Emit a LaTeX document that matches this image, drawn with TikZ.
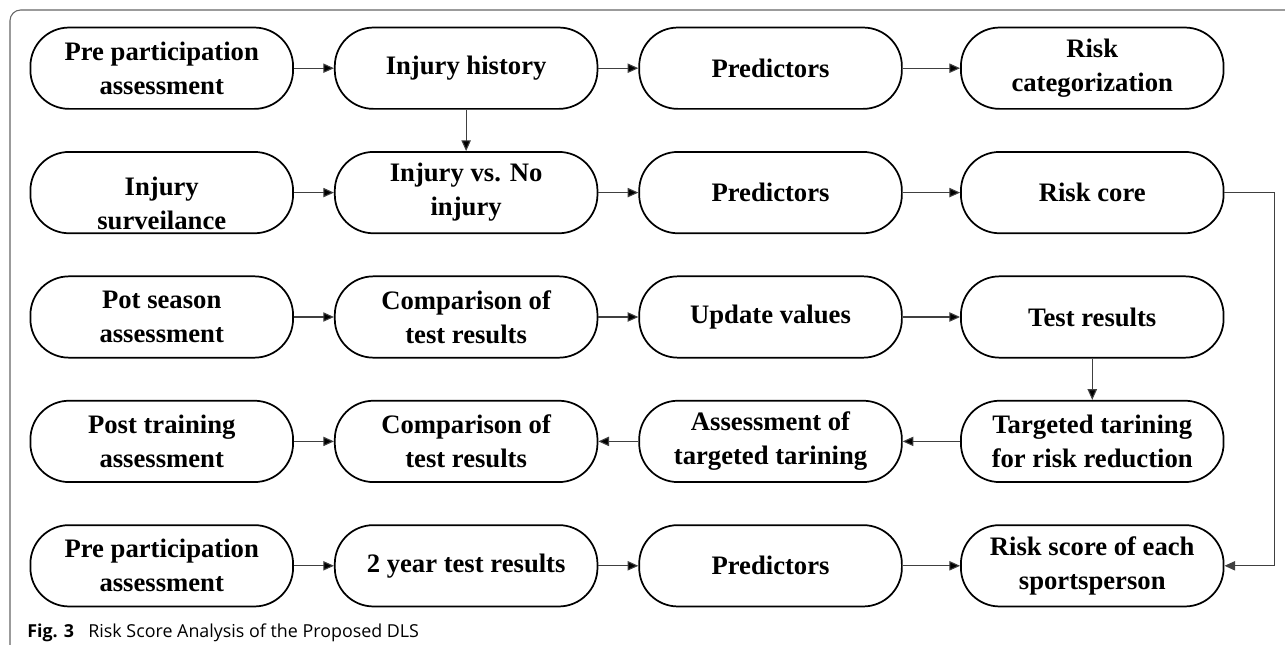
\documentclass[tikz,border=0pt]{standalone}
\usepackage{fontspec}
\setmainfont{Liberation Serif}
\newfontfamily\capfont{Open Sans}
\usepackage{tikz}
\usetikzlibrary{matrix,arrows,arrows.meta}

\tikzset{
  flowbox/.style={draw, line width=1.3pt, rounded corners=29pt, minimum width=197pt,
    minimum height=61pt, align=center, inner sep=2pt,
    font=\bfseries\fontsize{20}{25.5}\selectfont},
  link/.style={-{Triangle[length=8pt,width=7pt]}, line width=0.8pt, draw=black!75},
}

\begin{document}
\begin{tikzpicture}[x=0.75pt,y=-0.75pt]
  \useasboundingbox (0,0) rectangle (1285,645);
  \clip (0,0) rectangle (1285,645);
  % frame and caption
  \draw[black!60, line width=0.8pt, rounded corners=8pt] (10,10) rectangle (1310,670);
  \node[anchor=base west, inner sep=0pt] (cap) at (27,637)
    {\capfont\fontsize{13.4}{16}\selectfont\textbf{Fig. 3}\hspace{0.8em}Risk Score Analysis of the Proposed DLS};

  \matrix (m) at (627,317) [row sep=31pt, column sep=30pt]
  {
\node[flowbox] (m-1-1) {Pre participation\\assessment}; &
\node[flowbox] (m-1-2) {Injury history}; &
\node[flowbox] (m-1-3) {Predictors}; &[13pt]
\node[flowbox] (m-1-4) {Risk\\categorization}; \\
\node[flowbox] (m-2-1) {\raisebox{-8pt}[\height][\depth]{Injury}\\\raisebox{-8pt}[\height][\depth]{surveilance}}; &
\node[flowbox] (m-2-2) {Injury vs. No\\injury}; &
\node[flowbox] (m-2-3) {Predictors}; &
\node[flowbox] (m-2-4) {Risk core}; \\
\node[flowbox] (m-3-1) {Pot season\\assessment}; &
\node[flowbox] (m-3-2) {Comparison of\\test results}; &
\node[flowbox] (m-3-3) {Update values}; &
\node[flowbox] (m-3-4) {Test results}; \\
\node[flowbox] (m-4-1) {Post training\\assessment}; &
\node[flowbox] (m-4-2) {Comparison of\\test results}; &
\node[flowbox] (m-4-3) {Assessment of\\targeted tarining}; &
\node[flowbox] (m-4-4) {Targeted tarining\\for risk reduction}; \\
\node[flowbox] (m-5-1) {Pre participation\\assessment}; &
\node[flowbox] (m-5-2) {2 year test results}; &
\node[flowbox] (m-5-3) {Predictors}; &
\node[flowbox] (m-5-4) {Risk score of each\\sportsperson}; \\
};
  \path[link]
  (m-1-1) edge (m-1-2)
  (m-1-2) edge (m-1-3)
          edge (m-2-2)
  (m-1-3) edge (m-1-4)
  (m-2-1) edge (m-2-2)
  (m-2-2) edge (m-2-3)
  (m-2-3) edge (m-2-4)
  (m-3-1) edge (m-3-2)
  (m-3-2) edge (m-3-3)
  (m-3-3) edge (m-3-4)
  (m-3-4) edge (m-4-4)
  (m-4-4) edge (m-4-3)
  (m-4-3) edge (m-4-2)
  (m-4-1) edge (m-4-2)
  (m-5-1) edge (m-5-2)
  (m-5-2) edge (m-5-3)
  (m-5-3) edge (m-5-4)
  ;
  % risk core feeds the final score
  \draw[link] (m-2-4.east) -- ++(50,0) |- (m-5-4.east);
\end{tikzpicture}
\end{document}
